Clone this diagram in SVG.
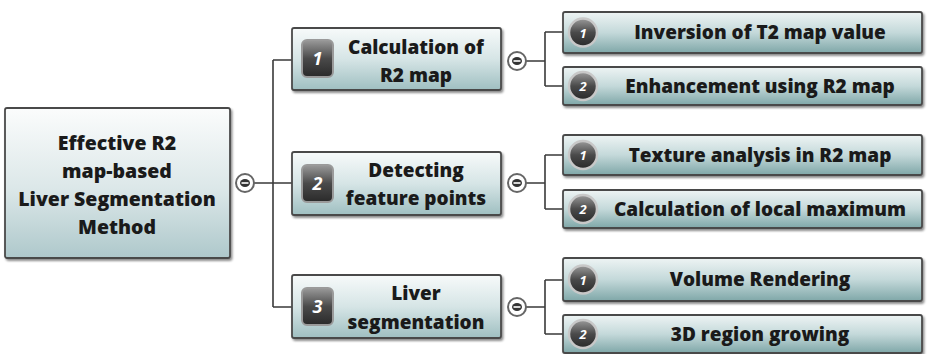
<svg xmlns="http://www.w3.org/2000/svg" width="927" height="354" viewBox="0 0 927 354">
<defs>
<linearGradient id="gBox" x1="0" y1="0" x2="0" y2="1">
<stop offset="0" stop-color="#f7fafa"/>
<stop offset="0.5" stop-color="#d6e5e6"/>
<stop offset="1" stop-color="#9fbfc1"/>
</linearGradient>
<linearGradient id="gRoot" x1="0" y1="0" x2="0" y2="1">
<stop offset="0" stop-color="#fbfcfc"/>
<stop offset="0.55" stop-color="#dbe7e8"/>
<stop offset="1" stop-color="#aec8cb"/>
</linearGradient>
<linearGradient id="gChild" x1="0" y1="0" x2="0" y2="1">
<stop offset="0" stop-color="#eef4f4"/>
<stop offset="0.5" stop-color="#c4d9da"/>
<stop offset="1" stop-color="#7fa7a8"/>
</linearGradient>
<linearGradient id="gDark" x1="0" y1="0" x2="0" y2="1">
<stop offset="0" stop-color="#9a9a9a"/>
<stop offset="0.5" stop-color="#4a4a4a"/>
<stop offset="1" stop-color="#2a2a2a"/>
</linearGradient>
<filter id="sh" x="-5%" y="-10%" width="110%" height="130%">
<feDropShadow dx="1.5" dy="2" stdDeviation="1.2" flood-color="#000" flood-opacity="0.45"/>
</filter>
</defs>
<style>
.box{stroke:#4a4a4a;stroke-width:1.8;filter:url(#sh)}
.root{fill:url(#gRoot)}
.l1{fill:url(#gBox)}
.l2{fill:url(#gChild)}
.conn{fill:none;stroke:#3a3a3a;stroke-width:1.6}
.t{font-family:"Open Sans","Liberation Sans",sans-serif;font-weight:800;fill:#1a1a1a;text-anchor:middle}
.tr{font-size:19.5px}
.t1{font-size:19px}
.t2{font-size:19px}
.num{font-family:"Open Sans","Liberation Sans",sans-serif;font-style:italic;font-weight:bold;fill:#fff;text-anchor:middle}
.sq{fill:url(#gDark);stroke:#9a9a9a;stroke-width:2}
.ci{fill:url(#gDark);stroke:#c8c8c8;stroke-width:2.5}
.tog{fill:#fff;stroke:#666;stroke-width:2}
.togm{fill:#333}
</style>
<g id="connectors">
<path class="conn" d="M254,183 H273 M273,60 V307 M273,60 H292 M273,183 H292 M273,307 H292"/>
<path class="conn" d="M526,61 H545 M545,32 V86 M545,32 H563 M545,86 H563"/>
<path class="conn" d="M526,183 H545 M545,155 V209 M545,155 H563 M545,209 H563"/>
<path class="conn" d="M526,307 H545 M545,280 V334 M545,280 H563 M545,334 H563"/>
</g>
<g id="root">
<rect class="box root" x="5" y="108" width="225" height="150" rx="2"/>
<text class="t tr" x="117" y="150">Effective R2</text>
<text class="t tr" x="117" y="178">map-based</text>
<text class="t tr" x="117" y="206">Liver Segmentation</text>
<text class="t tr" x="117" y="234">Method</text>
</g>
<g id="toggle-root"><circle class="tog" cx="245" cy="183" r="9"/><ellipse class="togm" cx="245" cy="183" rx="5" ry="4"/><rect x="241.5" y="182.2" width="7" height="1.6" fill="#fff"/></g>
<g id="n1">
<rect class="box l1" x="292" y="28" width="209" height="62" rx="2"/>
<rect class="sq" x="302" y="40" width="31" height="37" rx="5"/>
<text class="num" x="317.5" y="65" font-size="18">1</text>
<text class="t t1" x="416" y="54">Calculation of</text>
<text class="t t1" x="416" y="82">R2 map</text>
</g>
<g id="toggle-n1"><circle class="tog" cx="517" cy="61" r="9"/><ellipse class="togm" cx="517" cy="61" rx="5" ry="4"/><rect x="513.5" y="60.2" width="7" height="1.6" fill="#fff"/></g>
<g id="n2">
<rect class="box l1" x="292" y="152" width="209" height="63" rx="2"/>
<rect class="sq" x="302" y="165" width="31" height="37" rx="5"/>
<text class="num" x="317.5" y="190" font-size="18">2</text>
<text class="t t1" x="416" y="177">Detecting</text>
<text class="t t1" x="416" y="205">feature points</text>
</g>
<g id="toggle-n2"><circle class="tog" cx="517" cy="183" r="9"/><ellipse class="togm" cx="517" cy="183" rx="5" ry="4"/><rect x="513.5" y="182.2" width="7" height="1.6" fill="#fff"/></g>
<g id="n3">
<rect class="box l1" x="292" y="275" width="209" height="63" rx="2"/>
<rect class="sq" x="302" y="288" width="31" height="37" rx="5"/>
<text class="num" x="317.5" y="313" font-size="18">3</text>
<text class="t t1" x="416" y="300">Liver</text>
<text class="t t1" x="416" y="329">segmentation</text>
</g>
<g id="toggle-n3"><circle class="tog" cx="517" cy="307" r="9"/><ellipse class="togm" cx="517" cy="307" rx="5" ry="4"/><rect x="513.5" y="306.2" width="7" height="1.6" fill="#fff"/></g>
<g id="n1a">
<rect class="box l2" x="563" y="12" width="359" height="41" rx="2"/>
<circle class="ci" cx="583" cy="32.5" r="14"/>
<text class="num" x="583" y="37.5" font-size="13">1</text>
<text class="t t2" x="760" y="39">Inversion of T2 map value</text>
</g>
<g id="n1b">
<rect class="box l2" x="563" y="67" width="359" height="38" rx="2"/>
<circle class="ci" cx="583" cy="86" r="14"/>
<text class="num" x="583" y="91" font-size="13">2</text>
<text class="t t2" x="760" y="92.5">Enhancement using R2 map</text>
</g>
<g id="n2a">
<rect class="box l2" x="563" y="135" width="359" height="40" rx="2"/>
<circle class="ci" cx="583" cy="155" r="14"/>
<text class="num" x="583" y="160" font-size="13">1</text>
<text class="t t2" x="760" y="161.5">Texture analysis in R2 map</text>
</g>
<g id="n2b">
<rect class="box l2" x="563" y="190" width="359" height="38" rx="2"/>
<circle class="ci" cx="583" cy="209" r="14"/>
<text class="num" x="583" y="214" font-size="13">2</text>
<text class="t t2" x="760" y="215.5">Calculation of local maximum</text>
</g>
<g id="n3a">
<rect class="box l2" x="563" y="258" width="359" height="43" rx="2"/>
<circle class="ci" cx="583" cy="279.5" r="14"/>
<text class="num" x="583" y="284.5" font-size="13">1</text>
<text class="t t2" x="760" y="286">Volume Rendering</text>
</g>
<g id="n3b">
<rect class="box l2" x="563" y="315" width="359" height="38" rx="2"/>
<circle class="ci" cx="583" cy="334" r="14"/>
<text class="num" x="583" y="339" font-size="13">2</text>
<text class="t t2" x="760" y="340.5">3D region growing</text>
</g>
</svg>
